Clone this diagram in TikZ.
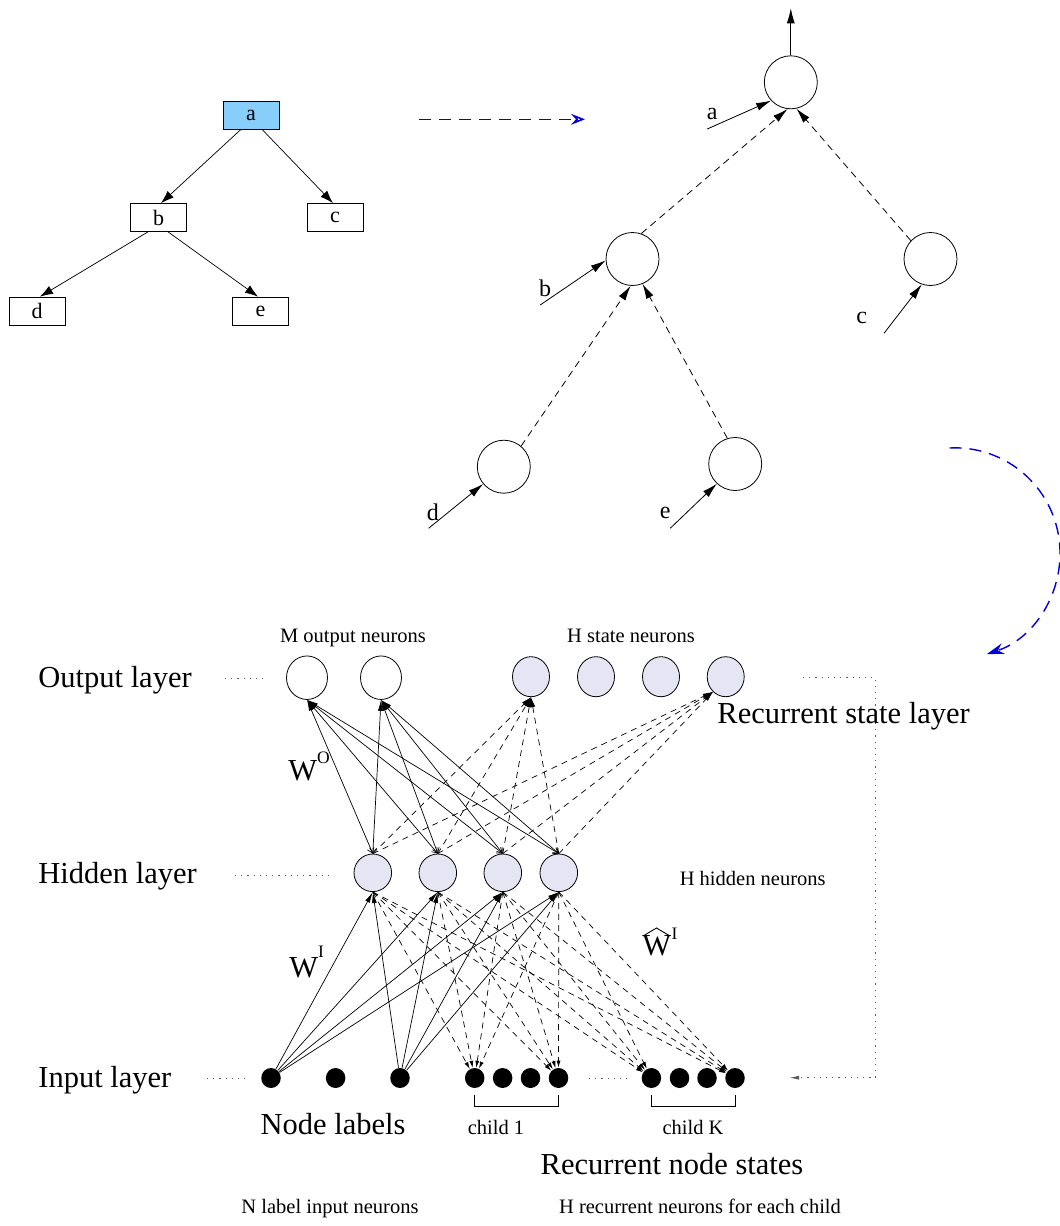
\documentclass[tikz,border=0pt]{standalone}
\usepackage{fontspec}
\setmainfont{Liberation Serif}
\usetikzlibrary{arrows.meta,shapes.geometric}
\definecolor{labelfill}{RGB}{135,206,250}
\definecolor{unitfill}{RGB}{229,229,243}
\definecolor{flowblue}{RGB}{0,0,225}
\definecolor{dotgray}{RGB}{90,90,90}
\begin{document}
\begin{tikzpicture}[x=1pt,y=-1pt,line width=0.8pt,
  treebox/.style={draw,line width=0.7pt,minimum width=56pt,minimum height=28pt,inner sep=0pt,font=\fontsize{22}{24}\selectfont},
  unit/.style={draw,ellipse,inner sep=0pt,line width=0.8pt},
  treeunit/.style={unit,minimum width=53pt,minimum height=53pt},
  outunit/.style={unit,minimum width=41pt,minimum height=43.5pt},
  stateunit/.style={unit,fill=unitfill,minimum width=37pt,minimum height=40pt},
  hidunit/.style={unit,fill=unitfill,minimum width=37.6pt,minimum height=37.6pt},
  inunit/.style={ellipse,fill=black,inner sep=0pt,minimum width=19.5pt,minimum height=20pt},
  big/.style={inner sep=0pt,font=\fontsize{30.5}{36}\selectfont},
  small/.style={inner sep=0pt,font=\fontsize{20.5}{24}\selectfont},
  treelbl/.style={inner sep=0pt,font=\fontsize{24}{26}\selectfont},
  treearrow/.style={-{Latex[length=13pt,width=9pt]},line width=0.7pt},
  feed/.style={-{Latex[length=15pt,width=8pt]},line width=0.8pt},
  rec/.style={feed,dash pattern=on 7pt off 5pt},
  wsolid/.style={-{Latex[length=11pt,width=5pt]},line width=0.7pt},
  wback/.style={{Straight Barb[length=5pt,width=7pt]}-{Latex[length=11pt,width=5pt]},line width=0.7pt},
  wdash/.style={-{Latex[length=10pt,width=5pt]},line width=0.7pt,dash pattern=on 6pt off 5pt},
  wchild/.style={-{Latex[length=7pt,width=4pt]},line width=0.7pt,dash pattern=on 6pt off 5pt},
  guide/.style={dotgray,line width=1pt,dash pattern=on 1.2pt off 5pt},
  flow/.style={flowblue,line width=1.6pt,dash pattern=on 12pt off 8pt}]
\useasboundingbox (0,0) rectangle (1060,1226);

% ---------- the input tree ----------
\node[treebox,fill=labelfill] (ta) at (251,115) {a};
\node[treebox] (tb) at (158.5,217.5) {b};
\node[treebox] (tc) at (335,217.5) {c};
\node[treebox] (td) at (37,311) {d};
\node[treebox] (te) at (260.5,311) {e};
\draw[treearrow] ([xshift=-10pt]ta.south) -- ([xshift=2.5pt]tb.north);
\draw[treearrow] ([xshift=11pt]ta.south) -- ([xshift=-2pt]tc.north);
\draw[treearrow] ([xshift=-10.5pt]tb.south) -- ([xshift=3pt]td.north);
\draw[treearrow] ([xshift=9.5pt]tb.south) -- ([xshift=-2.5pt]te.north);

% ---------- unfolding arrow ----------
\coordinate (unfA) at (419,119.3);
\coordinate (unfB) at (585,119.3);
\draw[flow,-{Stealth[open,length=14pt,width=11pt,inset=5pt]}] (unfA) -- (unfB);

% ---------- the unfolded encoding network ----------
\node[treeunit] (ra) at (790.8,82.3) {};
\node[treeunit] (rb) at (632.5,259) {};
\node[treeunit] (rc) at (930.5,259) {};
\node[treeunit] (rd) at (503.8,466.7) {};
\node[treeunit] (re) at (735.2,464) {};
\coordinate (raout) at (790.8,8.3);
\draw[feed] (ra.north) -- (raout);
\coordinate (ina) at (707.2,129);
\coordinate (inb) at (540.2,305);
\coordinate (inc) at (884,333.3);
\coordinate (ind) at (428.6,528.3);
\coordinate (ine) at (670.2,528.3);
\draw[feed] (ina) -- (ra.223.6);
\draw[feed] (inb) -- (rb.183.5);
\draw[feed] (inc) -- (rc.251);
\draw[feed] (ind) -- (rd.220);
\draw[feed] (ine) -- (re.227);
\node[treelbl] (la) at (712.3,114) {a};
\node[treelbl] (lb) at (545.2,288) {b};
\node[treelbl] (lc) at (861.7,318.3) {c};
\node[treelbl] (ld) at (432.8,512) {d};
\node[treelbl] (le) at (665.2,513.3) {e};
\draw[rec] (rb.71.9) -- (ra.263);
\draw[rec] (rc.137) -- (ra.282.5);
\draw[rec] (rd.50) -- (rb.266);
\draw[rec] (re.107) -- (rb.292);

% ---------- arrow down to the network ----------
\coordinate (turnA) at (949.5,448);
\coordinate (turnB) at (1058.4,534.8);
\coordinate (turnC) at (987,654);
\draw[flow,line width=1.4pt,-{Stealth[length=17pt,width=11pt]}] (turnA) .. controls (1002.5,445.2) and (1049.2,482.6) .. (turnB)
  .. controls (1067.6,587) and (1036.4,637.9) .. (turnC);

% ---------- recursive neural network ----------
% output layer
\node[outunit] (o1) at (307,677.7) {};
\node[outunit] (o2) at (381,677.7) {};
\node[stateunit] (s1) at (531,676.7) {};
\node[stateunit] (s2) at (596,676.7) {};
\node[stateunit] (s3) at (661,676.7) {};
\node[stateunit] (s4) at (725.7,676.7) {};
% hidden layer
\node[hidunit] (h1) at (372.8,872.8) {};
\node[hidunit] (h2) at (437.8,872.8) {};
\node[hidunit] (h3) at (502.8,872.8) {};
\node[hidunit] (h4) at (558.8,872.8) {};
% input layer
\node[inunit] (l1) at (271,1078) {};
\node[inunit] (l2) at (335.6,1078) {};
\node[inunit] (l3) at (400,1078) {};
\node[inunit] (c1a) at (474.7,1078) {};
\node[inunit] (c1b) at (502.6,1078) {};
\node[inunit] (c1c) at (530.5,1078) {};
\node[inunit] (c1d) at (558.5,1078) {};
\node[inunit] (cka) at (651.4,1078) {};
\node[inunit] (ckb) at (679.5,1078) {};
\node[inunit] (ckc) at (707,1078) {};
\node[inunit] (ckd) at (735,1078) {};

% weights
\foreach \h in {h1,h2,h3,h4}{
  \foreach \o in {o1,o2} \draw[wback] (\h.north) -- (\o.south);
  \draw[wdash] (\h.north) -- (s1.south);
  \draw[wdash] (\h.north) -- (s4.230);
  \foreach \l in {l1,l3} \draw[wsolid] (\l) -- (\h.south);
  \foreach \c in {c1a,c1d,cka,ckd} \draw[wchild] (\h.south) -- (\c);
}

% layer names and guide dots
\node[big,anchor=base west] (nout) at (38,687) {Output layer};
\node[big,anchor=base west] (nhid) at (38,883) {Hidden layer};
\node[big,anchor=base west] (ninp) at (38,1087) {Input layer};
\coordinate (gO1) at (225,678); \coordinate (gO2) at (265,678);
\coordinate (gH1) at (235,875); \coordinate (gH2) at (333,875);
\coordinate (gI1) at (207,1078); \coordinate (gI2) at (247,1078);
\draw[guide] (gO1) -- (gO2);
\draw[guide] (gH1) -- (gH2);
\draw[guide] (gI1) -- (gI2);
\coordinate (gC1) at (589,1078); \coordinate (gC2) at (628,1078);
\draw[guide] (gC1) -- (gC2);

% recurrent feedback from the state layer to the child inputs
\coordinate (fb1) at (803,677.7);
\coordinate (fb2) at (875.5,677.7);
\coordinate (fb3) at (875.5,1077.7);
\coordinate (fb4) at (789,1077.7);
\draw[guide,-{Latex[length=10pt,width=4pt]}] (fb1) -- (fb2) -- (fb3) -- (fb4);

% annotations
\node[small,anchor=base] (tmo) at (353,642) {M output neurons};
\node[small,anchor=base] (tsn) at (631,642) {H state neurons};
\node[big,anchor=base west] (trs) at (717,723) {Recurrent state layer};
\node[small,anchor=base west] (thn) at (679.4,885) {H hidden neurons};
\node[big,anchor=base west] (two) at (288,780) {W\raisebox{17pt}{\fontsize{17.5}{20}\selectfont O}};
\node[big,anchor=base west] (twi) at (289,977) {W\raisebox{20pt}{\fontsize{17.5}{20}\selectfont I}};
\node[big,anchor=base west] (twh) at (641.9,955) {W\kern0.5pt\raisebox{16pt}{\fontsize{17.5}{20}\selectfont I}};
% wide hat over the W of the recurrent weights
\draw[line width=0.9pt,line join=miter] (643,936) -- (656.5,928) -- (670,936);

% child groups
\draw[line width=0.7pt] ([yshift=-17pt]c1a.center) -- ([yshift=-28pt]c1a.center) -- ([yshift=-28pt]c1d.center) -- ([yshift=-17pt]c1d.center);
\draw[line width=0.7pt] ([yshift=-17pt]cka.center) -- ([yshift=-28pt]cka.center) -- ([yshift=-28pt]ckd.center) -- ([yshift=-17pt]ckd.center);
\node[small,anchor=base] (tc1) at (496,1134) {child 1};
\node[small,anchor=base] (tck) at (693,1134) {child K};
\node[big,anchor=base] (tnl) at (333,1134) {Node labels};
\node[big,anchor=base] (trn) at (672,1174) {Recurrent node states};
\node[small,anchor=base] (tni) at (330,1213) {N label input neurons};
\node[small,anchor=base] (thr) at (700,1213) {H recurrent neurons for each child};
\end{tikzpicture}
\end{document}
